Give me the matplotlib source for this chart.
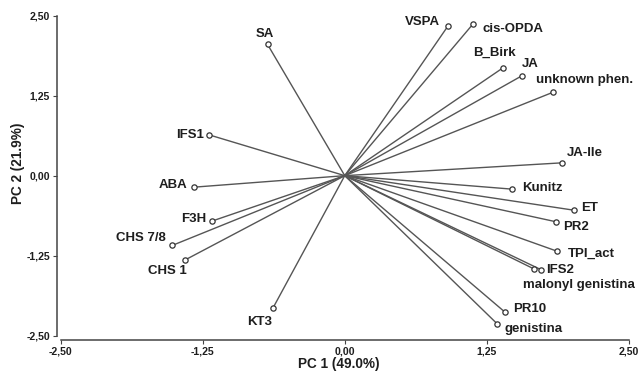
import matplotlib
matplotlib.use("Agg")
import matplotlib.pyplot as plt

names = ["SA", "IFS1", "ABA", "F3H", "CHS 7/8", "CHS 1", "KT3",
         "VSPA", "cis-OPDA", "B_Birk", "JA", "unknown phen.", "JA-Ile",
         "Kunitz", "ET", "PR2", "TPI_act", "IFS2", "malonyl genistina",
         "PR10", "genistina"]
pc1 = [-0.68, -1.20, -1.33, -1.17, -1.52, -1.41, -0.63,
       0.91, 1.13, 1.39, 1.56, 1.83, 1.91,
       1.47, 2.02, 1.86, 1.87, 1.73, 1.67,
       1.41, 1.34]
pc2 = [2.05, 0.64, -0.18, -0.71, -1.09, -1.32, -2.06,
       2.34, 2.37, 1.68, 1.56, 1.30, 0.20,
       -0.21, -0.54, -0.72, -1.18, -1.47, -1.46,
       -2.13, -2.31]
ticks = [-2.5, -1.25, 0.0, 1.25, 2.5]
tick_labels = ["-2,50", "-1,25", "0,00", "1,25", "2,50"]
xlabel = "PC 1 (49.0%)"
ylabel = "PC 2 (21.9%)"

# label placement: (dx px, dy px (up), ha)
label_pos = {
    "SA": (-3, 10, "center"),
    "IFS1": (-5, 0, "right"),
    "ABA": (-6, 2, "right"),
    "F3H": (-6, 2, "right"),
    "CHS 7/8": (-6, 7, "right"),
    "CHS 1": (2, -11, "right"),
    "KT3": (-1, -14, "right"),
    "VSPA": (-8, 4, "right"),
    "cis-OPDA": (9, -5, "left"),
    "B_Birk": (-8, 15, "center"),
    "JA": (0, 12, "left"),
    "unknown phen.": (-17, 12, "left"),
    "JA-Ile": (5, 10, "left"),
    "Kunitz": (10, 1, "left"),
    "ET": (7, 2, "left"),
    "PR2": (7, -5, "left"),
    "TPI_act": (11, -3, "left"),
    "IFS2": (5, 0, "left"),
    "malonyl genistina": (-11, -16, "left"),
    "PR10": (8, 3, "left"),
    "genistina": (8, -5, "left"),
}

plt.rcParams["font.family"] = ["Liberation Sans", "DejaVu Sans"]

fig = plt.figure(figsize=(6.38, 3.71), dpi=100)
ax = fig.add_axes([0.0893, 0.0836, 0.987 - 0.0893, 0.9596 - 0.0836])

line_col = "#555555"
for n, x, y in zip(names, pc1, pc2):
    ax.plot([0, x], [0, y], color=line_col, lw=1.0, zorder=2)
    ax.plot([x], [y], marker="o", ms=3.8, mfc="white", mec="#333333",
            mew=0.9, zorder=3)
    dx, dy, ha = label_pos[n]
    ax.annotate(n, (x, y), xytext=(dx, dy), textcoords="offset pixels",
                ha=ha, va="center", fontsize=9.5, fontweight="bold",
                color="#1e1e1e")

ax.set_xlim(-2.535, 2.51)
ax.set_ylim(-2.567, 2.51)
ax.set_xticks(ticks)
ax.set_xticklabels(tick_labels)
ax.set_yticks(ticks)
ax.set_yticklabels(tick_labels)
for s in ["top", "right"]:
    ax.spines[s].set_visible(False)
ax.spines["left"].set_bounds(-2.5, 2.5)
ax.spines["bottom"].set_bounds(-2.5, 2.5)
for s in ["left", "bottom"]:
    ax.spines[s].set_color("#444444")
    ax.spines[s].set_linewidth(1.1)
ax.tick_params(axis="both", length=3, width=0.8, color="#444444",
               labelsize=7.6, labelcolor="#1e1e1e", pad=2)
for lab in ax.get_xticklabels() + ax.get_yticklabels():
    lab.set_fontweight("bold")
ax.set_xlabel(xlabel, fontsize=9.8, fontweight="bold", color="#1e1e1e")
ax.set_ylabel(ylabel, fontsize=9.8, fontweight="bold", color="#1e1e1e")
ax.xaxis.set_label_coords(0.492, -0.052)
ax.yaxis.set_label_coords(-0.056, 0.545)

fig.savefig("out.png", dpi=100)
